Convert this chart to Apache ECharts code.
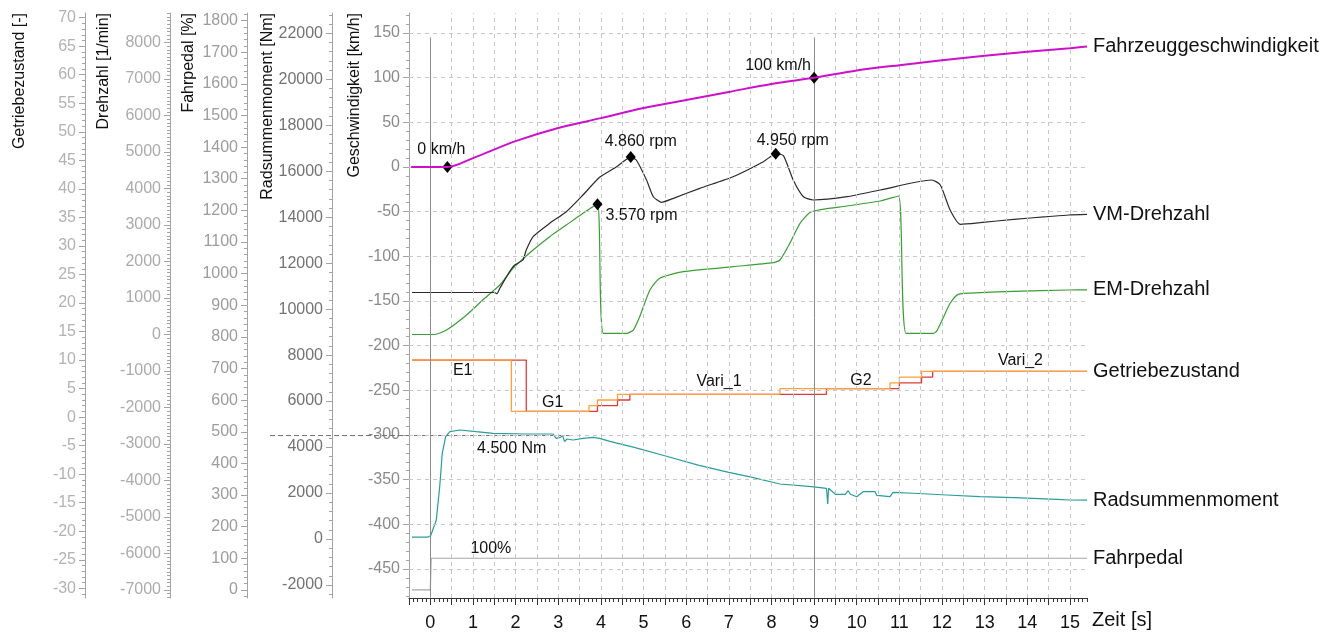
<!DOCTYPE html>
<html>
<head>
<meta charset="utf-8">
<script src="https://cdn.jsdelivr.net/npm/echarts@6/dist/echarts.min.js"></script>
<style>
  html, body { margin: 0; padding: 0; background: #ffffff; }
  #chart { width: 1335px; height: 633px; }
</style>
</head>
<body>
<div id="chart"></div>
<script>
// ---- measured signals (time in s) ----
const speedT = [-0.45, 0.4, 1, 2, 3, 4, 5, 6, 7, 8, 9, 10, 11, 12, 13, 14, 15, 15.4];
const speedV = [0, 0, 10, 29, 43.7, 54.7, 66, 75, 84, 93, 100, 108, 114, 119.5, 124.5, 129, 133, 135];

const vmT = [-0.43, 1.51, 1.56, 1.63, 1.86, 1.98, 2.17, 2.25, 2.41, 2.80, 3.19, 3.58, 3.97, 4.37, 4.70, 4.83, 5.07, 5.23, 5.42, 5.70, 6.32, 7.10, 7.81, 8.10, 8.28, 8.51, 8.75, 8.98, 9.77, 10.55, 11.76, 11.96, 12.19, 12.43, 12.89, 13.68, 14.46, 14.97, 15.4];
const vmRpm = [1150, 1150, 1120, 1266, 1721, 1904, 2041, 2315, 2680, 3046, 3365, 3822, 4307, 4597, 4860, 4781, 4233, 3775, 3622, 3731, 4005, 4323, 4734, 4950, 4900, 4233, 3775, 3685, 3775, 3959, 4233, 4096, 3411, 3019, 3063, 3156, 3227, 3274, 3290];

const emT = [-0.43, 0.1, 0.38, 0.85, 1.23, 1.63, 1.94, 2.41, 2.80, 3.19, 3.58, 3.92, 4.06, 4.6, 4.76, 4.91, 5.15, 5.38, 5.93, 7.10, 8.04, 8.2, 8.43, 8.67, 8.94, 9.77, 10.55, 10.98, 11.16, 11.8, 11.88, 12.04, 12.19, 12.38, 12.89, 13.68, 14.97, 15.4];
const emRpm = [0, 0, 123, 534, 945, 1356, 1813, 2315, 2680, 3000, 3320, 3570, 30, 30, 123, 488, 1219, 1540, 1721, 1858, 1967, 2041, 2499, 3046, 3365, 3521, 3658, 3795, 30, 30, 100, 488, 855, 1101, 1145, 1183, 1219, 1225];

const gearT = [-0.43, 1.90, 3.72, 3.92, 4.39, 8.20, 10.78, 11.00, 11.52, 15.4];
const gearState = [10, 1, 2, 3, 4, 5, 6, 7, 8, 8];
const gearTargetT = [-0.43, 2.25, 3.92, 4.39, 4.68, 9.29, 11.00, 11.52, 11.78, 15.4];
const gearTargetState = [10, 1, 2, 3, 4, 5, 6, 7, 8, 8];
const gearNames = ['E1', 'G1', 'Vari_1', 'G2', 'Vari_2'];
const gearNameT = [0.76, 2.87, 6.77, 10.1, 13.84];
const gearNameState = [10, 1, 4, 5, 8];

const torqueT = [-0.43, -0.06, 0.01, 0.14, 0.22, 0.28, 0.36, 0.46, 0.69, 1.08, 1.47, 2.25, 2.88, 2.95, 3.05, 3.10, 3.15, 3.20, 3.35, 3.58, 3.82, 3.97, 4.21, 4.76, 5.54, 6.3, 7.0, 7.5, 8.2, 8.94, 9.29, 9.32, 9.34, 9.37, 9.5, 9.73, 9.8, 9.85, 10.0, 10.15, 10.43, 10.47, 10.78, 10.85, 11.32, 12.11, 12.89, 13.7, 14.7, 15.0, 15.4];
const torqueNm = [80, 80, 150, 826, 2275, 3728, 4450, 4668, 4742, 4668, 4598, 4568, 4568, 4381, 4420, 4500, 4234, 4350, 4307, 4381, 4424, 4380, 4250, 4000, 3600, 3200, 2900, 2700, 2393, 2275, 2206, 1523, 2206, 2206, 1945, 1945, 2101, 1945, 1840, 2058, 2058, 1900, 1840, 2032, 1990, 1914, 1840, 1800, 1727, 1697, 1690];
const torqueRef = 4500;

const pedalT = [-0.43, 0.0, 0.02, 15.4];
const pedalPct = [0, 0, 100, 100];

// ---- axis ticks ----
const timeLabels = [0, 1, 2, 3, 4, 5, 6, 7, 8, 9, 10, 11, 12, 13, 14, 15];
const speedTicks = [-450, -400, -350, -300, -250, -200, -150, -100, -50, 0, 50, 100, 150];
const torqueTicks = [-2000, 0, 2000, 4000, 6000, 8000, 10000, 12000, 14000, 16000, 18000, 20000, 22000];
const pedalTicks = [0, 100, 200, 300, 400, 500, 600, 700, 800, 900, 1000, 1100, 1200, 1300, 1400, 1500, 1600, 1700, 1800];
const rpmTicks = [-7000, -6000, -5000, -4000, -3000, -2000, -1000, 0, 1000, 2000, 3000, 4000, 5000, 6000, 7000, 8000];
const gearTicks = [-30, -25, -20, -15, -10, -5, 0, 5, 10, 15, 20, 25, 30, 35, 40, 45, 50, 55, 60, 65, 70];

const FONT = '"Liberation Sans", Arial, Helvetica, sans-serif';

function steps(from, to, step) {
  const out = [];
  const n = Math.round((to - from) / step);
  for (let i = 0; i <= n; i++) out.push(+(from + i * step).toFixed(4));
  return out;
}
function zip(xs, ys) { return xs.map((x, i) => [x, ys[i]]); }
function deNumber(n) { return String(n).replace(/\B(?=(\d{3})+(?!\d))/g, '.'); }
const plain = v => String(v);

// left-hand value axes (major + minor tick layer each)
const axisSpecs = [
  { min: -482.5, max: 172.4, offset: 0,   major: speedTicks,  minor: steps(-480, 170, 10),    color: '#8a8a8a' },
  { min: -2567,  max: 22884, offset: 77,  major: torqueTicks, minor: steps(-2400, 22800, 400), color: '#737373' },
  { min: -25.6,  max: 1824,  offset: 162, major: pedalTicks,  minor: steps(-20, 1820, 20),     color: '#9c9c9c' },
  { min: -7219,  max: 8808,  offset: 239, major: rpmTicks,    minor: steps(-7200, 8800, 100),  color: '#ababab' },
  { min: -31.7,  max: 70.82, offset: 324, major: gearTicks,   minor: steps(-31, 70, 1),        color: '#b2b2b2' }
];
const AX = { speed: 0, torque: 2, pedal: 4, rpm: 6, gear: 8 };

const yAxes = [];
axisSpecs.forEach(s => {
  const base = { type: 'value', gridIndex: 0, position: 'left', offset: s.offset, min: s.min, max: s.max, splitLine: { show: false } };
  yAxes.push(Object.assign({}, base, {
    axisLine: { show: true, onZero: false, lineStyle: { color: '#a3a3a3', width: 1 } },
    axisTick: { show: true, length: 6, customValues: s.major, lineStyle: { color: '#a3a3a3' } },
    axisLabel: { show: true, customValues: s.major, formatter: plain, color: s.color, fontSize: 16, fontFamily: FONT, margin: 9 }
  }));
  yAxes.push(Object.assign({}, base, {
    axisLine: { show: false, onZero: false },
    axisTick: { show: true, length: 3, customValues: s.minor, lineStyle: { color: '#a3a3a3' } },
    axisLabel: { show: false }
  }));
});

const T_MIN = -0.5, T_MAX = 15.4;
const xAxes = [
  { type: 'value', gridIndex: 0, position: 'bottom', min: T_MIN, max: T_MAX,
    axisLine: { show: true, onZero: false, lineStyle: { color: '#333', width: 1 } },
    axisTick: { show: true, length: 7, customValues: steps(-0.5, 15, 0.5), lineStyle: { color: '#333' } },
    axisLabel: { show: true, customValues: timeLabels, formatter: plain, color: '#111', fontSize: 18, fontFamily: FONT, margin: 16 },
    splitLine: { show: false } },
  { type: 'value', gridIndex: 0, position: 'bottom', min: T_MIN, max: T_MAX,
    axisLine: { show: false, onZero: false },
    axisTick: { show: true, length: 4, customValues: steps(-0.5, 15.4, 0.1), lineStyle: { color: '#333' } },
    axisLabel: { show: false }, splitLine: { show: false } }
];

const endLabel = { show: true, formatter: p => p.seriesName, distance: 6, fontSize: 20, color: '#111', fontFamily: FONT };
const pointLabel = { show: true, position: 'inside', color: '#111', fontSize: 16, fontFamily: FONT };
const diamond = { symbol: 'diamond', symbolSize: [10, 12], itemStyle: { color: '#000' } };

function markAt(x, y, text, offset) {
  return Object.assign({ coord: [x, y], value: y, label: Object.assign({}, pointLabel, { formatter: text, offset: offset }) }, diamond);
}
function textAt(x, y, text, offset) {
  return { coord: [x, y], value: y, symbolSize: 0, label: Object.assign({}, pointLabel, { formatter: text, offset: offset }) };
}

const iSpeed0 = 1, iSpeed100 = 10;
const iVmPeak1 = vmT.indexOf(4.70), iVmPeak2 = vmT.indexOf(8.10), iEmPeak = emT.indexOf(3.92);

const series = [
  { // grid
    type: 'line', name: 'grid', xAxisIndex: 0, yAxisIndex: AX.speed, data: [], z: 1, silent: true,
    markLine: {
      silent: true, symbol: 'none', animation: false, label: { show: false },
      lineStyle: { color: '#c6c6c6', type: [4, 4], width: 1 },
      data: speedTicks.map(v => ({ yAxis: v }))
        .concat(steps(0.5, 15, 0.5).filter(t => t !== 9).map(t => ({ xAxis: t })))
    }
  },
  { // time cursors
    type: 'line', name: 'cursor', xAxisIndex: 0, yAxisIndex: AX.speed, data: [], z: 1, silent: true,
    markLine: {
      silent: true, symbol: 'none', animation: false, label: { show: false },
      lineStyle: { color: '#8c8c8c', type: 'solid', width: 1 },
      data: [
        [{ coord: [0, 145] }, { coord: [0, -482] }],
        [{ coord: [9, 145] }, { coord: [9, -482] }]
      ]
    }
  },
  {
    type: 'line', name: 'Fahrzeuggeschwindigkeit', xAxisIndex: 0, yAxisIndex: AX.speed,
    data: zip(speedT, speedV), smooth: 0.3, showSymbol: false, z: 5,
    lineStyle: { color: '#cc10cc', width: 2 }, itemStyle: { color: '#cc10cc' }, endLabel,
    markPoint: { animation: false, data: [
      markAt(speedT[iSpeed0], speedV[iSpeed0], speedV[iSpeed0] + ' km/h', [-6, -17]),
      markAt(speedT[iSpeed100], speedV[iSpeed100], speedV[iSpeed100] + ' km/h', [-36, -12])
    ] }
  },
  {
    type: 'line', name: 'VM-Drehzahl', xAxisIndex: 0, yAxisIndex: AX.rpm,
    data: zip(vmT, vmRpm), smooth: 0.2, showSymbol: false, z: 4,
    lineStyle: { color: '#2b2b2b', width: 1.2 }, itemStyle: { color: '#2b2b2b' }, endLabel,
    markPoint: { animation: false, data: [
      markAt(vmT[iVmPeak1], vmRpm[iVmPeak1], deNumber(vmRpm[iVmPeak1]) + ' rpm', [10, -16]),
      markAt(vmT[iVmPeak2], vmRpm[iVmPeak2], deNumber(vmRpm[iVmPeak2]) + ' rpm', [17, -13])
    ] }
  },
  {
    type: 'line', name: 'EM-Drehzahl', xAxisIndex: 0, yAxisIndex: AX.rpm,
    data: zip(emT, emRpm), smooth: 0.2, showSymbol: false, z: 3,
    lineStyle: { color: '#3a9e36', width: 1.2 }, itemStyle: { color: '#3a9e36' }, endLabel,
    markPoint: { animation: false, data: [
      markAt(emT[iEmPeak], emRpm[iEmPeak], deNumber(emRpm[iEmPeak]) + ' rpm', [44, 11])
    ] }
  },
  {
    type: 'line', name: 'Getriebezustand (Soll)', xAxisIndex: 0, yAxisIndex: AX.gear,
    data: zip(gearTargetT, gearTargetState), step: 'end', showSymbol: false, z: 3,
    lineStyle: { color: '#dd3a3a', width: 1.3 }, itemStyle: { color: '#dd3a3a' }
  },
  {
    type: 'line', name: 'Getriebezustand', xAxisIndex: 0, yAxisIndex: AX.gear,
    data: zip(gearT, gearState), step: 'end', showSymbol: false, z: 4,
    lineStyle: { color: '#ffa03c', width: 1.3 }, itemStyle: { color: '#ffa03c' }, endLabel,
    markPoint: { animation: false, data: [
      textAt(gearNameT[0], gearNameState[0], gearNames[0], [0, 11]),
      textAt(gearNameT[1], gearNameState[1], gearNames[1], [0, -9]),
      textAt(gearNameT[2], gearNameState[2], gearNames[2], [0, -13]),
      textAt(gearNameT[3], gearNameState[3], gearNames[3], [0, -8]),
      textAt(gearNameT[4], gearNameState[4], gearNames[4], [0, -11])
    ] }
  },
  {
    type: 'line', name: 'Radsummenmoment', xAxisIndex: 0, yAxisIndex: AX.torque,
    data: zip(torqueT, torqueNm), showSymbol: false, z: 3,
    lineStyle: { color: '#2a9c9c', width: 1.2 }, itemStyle: { color: '#2a9c9c' }, endLabel,
    markPoint: { animation: false, data: [
      textAt(1.91, torqueRef, deNumber(torqueRef) + ' Nm', [0, 13])
    ] }
  },
  {
    type: 'line', name: 'Fahrpedal', xAxisIndex: 0, yAxisIndex: AX.pedal,
    data: zip(pedalT, pedalPct), showSymbol: false, z: 3,
    lineStyle: { color: '#a6a6a6', width: 1.2 }, itemStyle: { color: '#a6a6a6' }, endLabel,
    markPoint: { animation: false, data: [
      textAt(1.42, pedalPct[2], pedalPct[2] + '%', [0, -10])
    ] }
  }
];

const axisTitles = [
  { text: 'Getriebezustand [-]', x: 20 },
  { text: 'Drehzahl [1/min]', x: 104 },
  { text: 'Fahrpedal [%]', x: 189 },
  { text: 'Radsummenmoment [Nm]', x: 268 },
  { text: 'Geschwindigkeit [km/h]', x: 355 }
];

const chart = echarts.init(document.getElementById('chart'), null, { renderer: 'canvas' });
chart.setOption({
  animation: false,
  backgroundColor: '#ffffff',
  grid: { left: 409, right: 248, top: 13, bottom: 35, containLabel: false },
  xAxis: xAxes,
  yAxis: yAxes,
  series: series,
  graphic: axisTitles.map(a => ({
    type: 'text', x: a.x, y: 13, rotation: Math.PI / 2, silent: true,
    style: { text: a.text, align: 'right', verticalAlign: 'middle', fill: '#111', fontSize: 16, fontFamily: FONT }
  })).concat([{
    type: 'text', left: 1092, top: 610, silent: true,
    style: { text: 'Zeit [s]', fill: '#111', fontSize: 20, fontFamily: FONT }
  }])
});

// reference level of the wheel torque, drawn from the torque axis out to the plateau end
const refEnd = chart.convertToPixel({ xAxisIndex: 0, yAxisIndex: AX.torque }, [3.35, torqueRef]);
chart.setOption({
  graphic: axisTitles.map(() => ({})).concat([{}, {
    type: 'line', silent: true, z: 2,
    shape: { x1: 270, y1: refEnd[1], x2: refEnd[0], y2: refEnd[1] },
    style: { stroke: '#6f6f6f', lineWidth: 1, lineDash: [5, 3] }
  }])
});
</script>
</body>
</html>
